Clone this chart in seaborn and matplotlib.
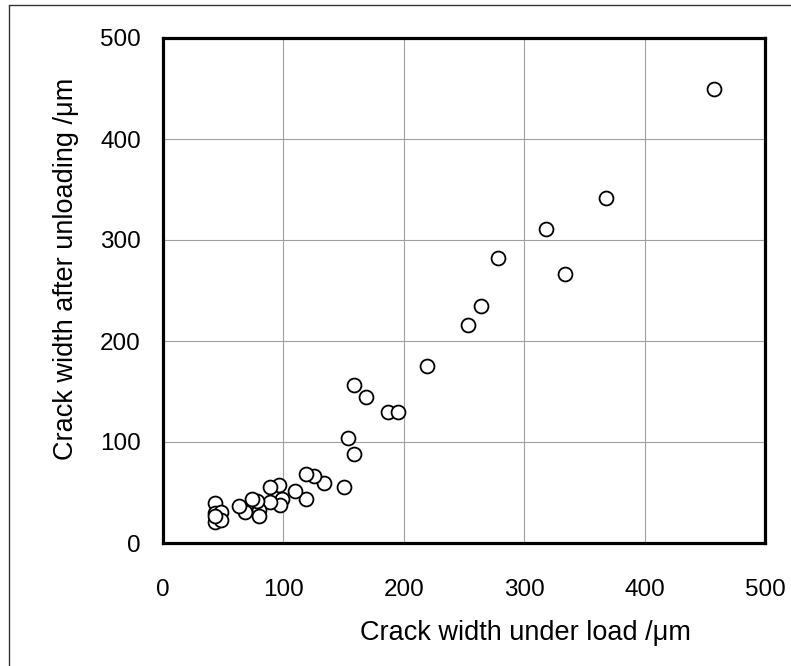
import matplotlib
matplotlib.use("Agg")
import matplotlib.pyplot as plt
import seaborn as sns
import pandas as pd
from matplotlib.lines import Line2D

x_load = [458, 368, 318, 334, 278, 264, 253, 219, 159, 169, 187, 195, 154, 159,
          150, 134, 125, 119, 119, 110, 99, 97, 96, 89, 89, 80, 80, 78, 74, 68,
          63, 43, 43, 48, 43, 48, 43]
y_unload = [450, 342, 311, 266, 282, 235, 216, 175, 156, 145, 130, 130, 104, 88,
            55, 59, 66, 68, 44, 51, 44, 38, 57, 55, 41, 33, 27, 42, 44, 31,
            37, 40, 30, 31, 21, 23, 27]
ticks = [0, 100, 200, 300, 400, 500]

df = pd.DataFrame({"load": x_load, "unload": y_unload})

sns.set_theme(style="white")
plt.rcParams["font.family"] = ["Liberation Sans", "DejaVu Sans"]
plt.rcParams["text.color"] = "black"
plt.rcParams["axes.labelcolor"] = "black"

W, H = 791, 666
fig = plt.figure(figsize=(W / 100, H / 100), dpi=100)
ax = fig.add_axes([163 / W, 1 - 543 / H, (765 - 163) / W, (543 - 38) / H])

sns.scatterplot(data=df, x="load", y="unload", ax=ax, marker="o", s=100,
                facecolor="white", edgecolor="black", linewidth=1.3, zorder=3)

ax.set_xlim(0, 500)
ax.set_ylim(0, 500)
ax.set_xticks(ticks)
ax.set_yticks(ticks)
ax.grid(True, color="#a0a0a0", linewidth=0.8)
ax.set_axisbelow(True)
for sp in ax.spines.values():
    sp.set_visible(True)
    sp.set_color("black")
    sp.set_linewidth(2.3)
ax.tick_params(axis="both", direction="in", length=5, width=1, colors="black",
               labelcolor="black", labelsize=17.5)
ax.tick_params(axis="x", pad=26)
ax.tick_params(axis="y", pad=16)

ax.set_xlabel("Crack width under load /μm", fontsize=19.5, va="center", color="black")
ax.set_ylabel("Crack width after unloading /μm", fontsize=19.5, va="center", color="black")
ax.xaxis.set_label_coords((525 - 163) / 602, (543 - 633) / 505)
ax.yaxis.set_label_coords((66 - 163) / 602, (543 - 269) / 505)

# figure frame (left and top lines)
fig.add_artist(Line2D([8.5 / W, 8.5 / W], [0, 1 - 5 / H], transform=fig.transFigure,
                      color="#333333", linewidth=1.0))
fig.add_artist(Line2D([8.5 / W, 1], [1 - 5 / H, 1 - 5 / H], transform=fig.transFigure,
                      color="#333333", linewidth=1.0))

fig.savefig("out.png", dpi=100)
